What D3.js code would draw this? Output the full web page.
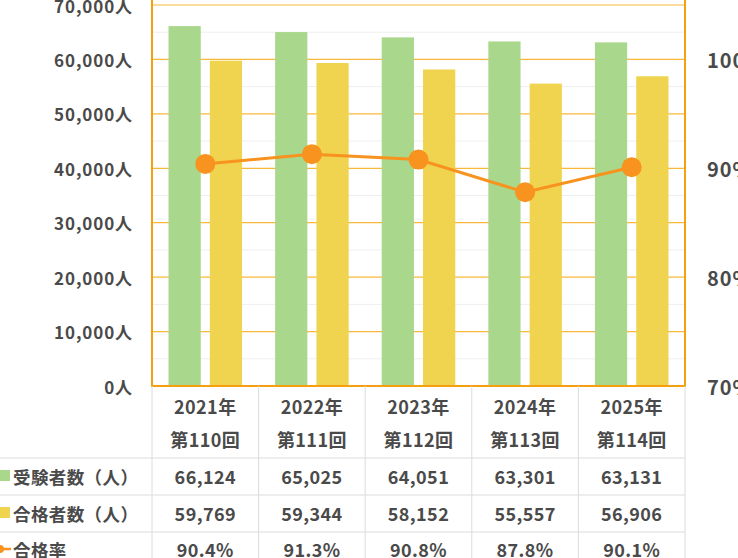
<!DOCTYPE html>
<html>
<head>
<meta charset="utf-8">
<script src="https://cdn.jsdelivr.net/npm/d3@7"></script>
<style>
  body { margin: 0; background: #fff; }
  svg { display: block; font-family: "Noto Sans CJK JP", "Noto Sans", sans-serif; font-weight: 700; letter-spacing: 0.9px; }
  .tbl { letter-spacing: 0.4px; }
</style>
</head>
<body>
<svg id="chart" width="738" height="558"></svg>
<script>
// data
const years = ['2021年', '2022年', '2023年', '2024年', '2025年'];
const rounds = ['第110回', '第111回', '第112回', '第113回', '第114回'];
const examinees = [66124, 65025, 64051, 63301, 63131];
const passers = [59769, 59344, 58152, 55557, 56906];
const passRate = [90.4, 91.3, 90.8, 87.8, 90.1];
const leftTicks = [0, 10000, 20000, 30000, 40000, 50000, 60000, 70000];
const rightTicks = [70, 80, 90, 100];

const svg = d3.select('#chart');
const plotLeft = 152, plotRight = 685, plotTop = 5, plotBottom = 386;
const green = '#a9d78b', yellow = '#f0d34f', orange = '#f7931e', grid = '#f8b93b';
const textColor = '#4a4a4a';

const x = d3.scaleBand().domain(d3.range(years.length)).range([plotLeft, plotRight]);
const sub = d3.scaleBand().domain([0, 1]).range([0, x.bandwidth()]).paddingInner(0.22).paddingOuter(0.4);
const y = d3.scaleLinear().domain([0, 70000]).range([plotBottom, plotTop]);
const yr = d3.scaleLinear().domain([70, 105]).range([plotBottom, plotTop]);

// minor gridlines
svg.append('g').selectAll('line')
  .data(d3.range(5000, 70000, 10000))
  .enter().append('line')
  .attr('x1', plotLeft).attr('x2', plotRight)
  .attr('y1', d => y(d)).attr('y2', d => y(d))
  .attr('stroke', '#eeeeee').attr('stroke-width', 1);

// major gridlines
svg.append('g').selectAll('line')
  .data(leftTicks.slice(1))
  .enter().append('line')
  .attr('x1', plotLeft).attr('x2', plotRight)
  .attr('y1', d => y(d)).attr('y2', d => y(d))
  .attr('stroke', grid).attr('stroke-width', 1.2);

// bars
const series = [examinees, passers];
const colors = [green, yellow];
series.forEach((vals, s) => {
  svg.append('g').selectAll('rect')
    .data(vals)
    .enter().append('rect')
    .attr('x', (d, i) => x(i) + sub(s))
    .attr('width', sub.bandwidth())
    .attr('y', d => y(d))
    .attr('height', d => plotBottom - y(d))
    .attr('fill', colors[s]);
});

// plot frame
svg.append('rect')
  .attr('x', plotLeft).attr('y', -10)
  .attr('width', plotRight - plotLeft).attr('height', plotBottom + 10)
  .attr('fill', 'none').attr('stroke', '#f5a00f').attr('stroke-width', 2);

// pass rate line
const line = d3.line()
  .x((d, i) => x(i) + x.bandwidth() / 2)
  .y(d => yr(d));
svg.append('path')
  .datum(passRate)
  .attr('d', line)
  .attr('fill', 'none').attr('stroke', orange).attr('stroke-width', 3);
svg.append('g').selectAll('circle')
  .data(passRate)
  .enter().append('circle')
  .attr('cx', (d, i) => x(i) + x.bandwidth() / 2)
  .attr('cy', d => yr(d))
  .attr('r', 10)
  .attr('fill', orange);

// left axis labels
svg.append('g').selectAll('text')
  .data(leftTicks)
  .enter().append('text')
  .attr('x', 133).attr('y', d => y(d))
  .attr('text-anchor', 'end').attr('dominant-baseline', 'central')
  .attr('font-size', 17).attr('fill', textColor)
  .text(d => d3.format(',')(d) + '人');

// right axis labels
svg.append('g').selectAll('text')
  .data(rightTicks)
  .enter().append('text')
  .attr('x', 707).attr('y', d => yr(d))
  .attr('dominant-baseline', 'central')
  .attr('font-size', 20).attr('fill', textColor)
  .text(d => d + '%');

// data table
const tableLine = '#dcdcdc';
const rowsY = [458, 495, 532, 570];
svg.append('g').selectAll('line')
  .data(rowsY)
  .enter().append('line')
  .attr('x1', 0).attr('x2', plotRight)
  .attr('y1', d => d).attr('y2', d => d)
  .attr('stroke', tableLine);
svg.append('g').selectAll('line')
  .data(d3.range(years.length + 1))
  .enter().append('line')
  .attr('x1', i => i < years.length ? x(i) : plotRight)
  .attr('x2', i => i < years.length ? x(i) : plotRight)
  .attr('y1', plotBottom).attr('y2', 558)
  .attr('stroke', tableLine);

const cell = (arr, cy, fmt) => svg.append('g').attr('class', 'tbl').selectAll('text')
  .data(arr)
  .enter().append('text')
  .attr('x', (d, i) => x(i) + x.bandwidth() / 2)
  .attr('y', cy)
  .attr('text-anchor', 'middle').attr('dominant-baseline', 'central')
  .attr('font-size', 18).attr('fill', textColor)
  .text(fmt);

cell(years, 406, d => d);
cell(rounds, 439, d => d);
cell(examinees, 476, d => d3.format(',')(d));
cell(passers, 513, d => d3.format(',')(d));
cell(passRate, 549, d => d.toFixed(1) + '%');

// row labels with legend keys
const rowLabels = ['受験者数（人）', '合格者数（人）', '合格率'];
const labelY = [476, 513, 549];
svg.append('g').attr('class', 'tbl').selectAll('text')
  .data(rowLabels)
  .enter().append('text')
  .attr('x', 13).attr('y', (d, i) => labelY[i])
  .attr('dominant-baseline', 'central')
  .attr('font-size', 17.5).attr('fill', textColor)
  .text(d => d);
svg.append('rect').attr('x', 0).attr('y', labelY[0] - 6).attr('width', 10).attr('height', 11).attr('fill', green);
svg.append('rect').attr('x', 0).attr('y', labelY[1] - 6).attr('width', 10).attr('height', 11).attr('fill', yellow);
svg.append('line').attr('x1', 0).attr('x2', 11)
  .attr('y1', labelY[2]).attr('y2', labelY[2])
  .attr('stroke', orange).attr('stroke-width', 2.5);
svg.append('circle').attr('cx', 0).attr('cy', labelY[2]).attr('r', 4).attr('fill', orange);
</script>
</body>
</html>
